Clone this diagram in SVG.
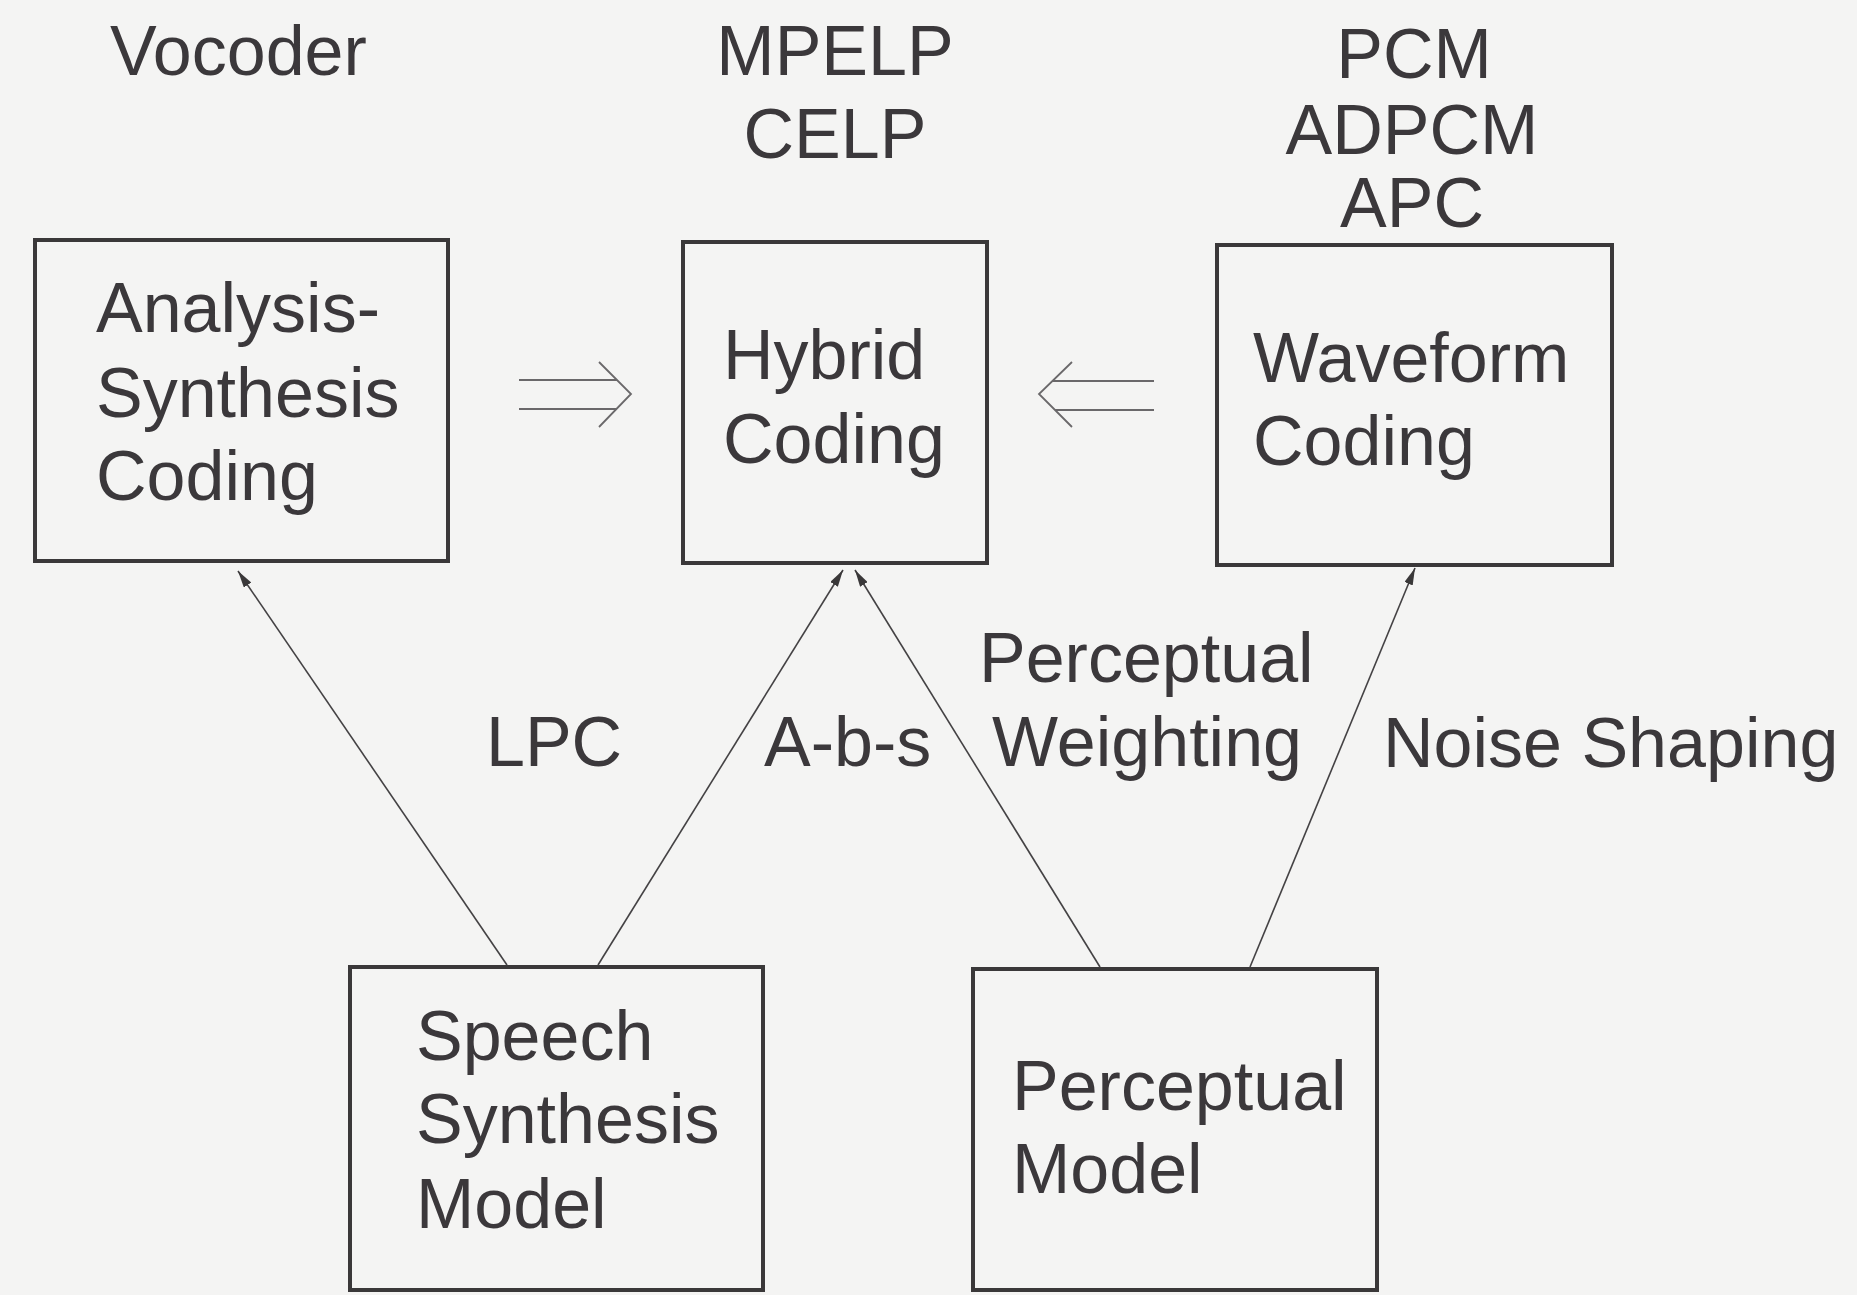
<svg xmlns="http://www.w3.org/2000/svg" width="1857" height="1295" viewBox="0 0 1857 1295">
<style>
  .bg { fill: #f4f4f3; }
  .box { fill: none; stroke: #3a3839; stroke-width: 4; }
  .t { font-family: "Liberation Sans", Arial, sans-serif; font-size: 70px; fill: #3b383b; }
  .c { text-anchor: middle; }
  .conn { stroke: #444244; stroke-width: 1.6; fill: none; }
  .dbl { stroke: #6a686a; stroke-width: 1.8; fill: none; }
</style>
<defs>
  <marker id="ah" markerUnits="userSpaceOnUse" markerWidth="18" markerHeight="9" refX="17" refY="4.5" orient="auto">
    <path d="M0,0 L17,4.5 L0,9 z" fill="#3a3839"/>
  </marker>
</defs>
<rect class="bg" x="0" y="0" width="1857" height="1295"/>

<g id="labels-top">
  <text class="t" x="110" y="75">Vocoder</text>
  <text class="t c" x="835" y="75">MPELP</text>
  <text class="t c" x="835" y="158">CELP</text>
  <text class="t c" x="1414" y="78">PCM</text>
  <text class="t c" x="1412" y="154">ADPCM</text>
  <text class="t c" x="1412" y="227">APC</text>
</g>

<g id="node-analysis-synthesis">
  <rect class="box" x="35" y="240" width="413" height="321"/>
  <text class="t" x="96" y="332">Analysis-</text>
  <text class="t" x="96" y="417">Synthesis</text>
  <text class="t" x="96" y="500">Coding</text>
</g>

<g id="node-hybrid">
  <rect class="box" x="683" y="242" width="304" height="321"/>
  <text class="t" x="723" y="379">Hybrid</text>
  <text class="t" x="723" y="463">Coding</text>
</g>

<g id="node-waveform">
  <rect class="box" x="1217" y="245" width="395" height="320"/>
  <text class="t" x="1253" y="382">Waveform</text>
  <text class="t" x="1253" y="465">Coding</text>
</g>

<g id="node-speech-synthesis">
  <rect class="box" x="350" y="967" width="413" height="323"/>
  <text class="t" x="416" y="1060">Speech</text>
  <text class="t" x="416" y="1143">Synthesis</text>
  <text class="t" x="416" y="1228">Model</text>
</g>

<g id="node-perceptual">
  <rect class="box" x="973" y="969" width="404" height="321"/>
  <text class="t" x="1012" y="1110">Perceptual</text>
  <text class="t" x="1012" y="1193">Model</text>
</g>

<g id="connectors">
  <line class="conn" x1="507" y1="965" x2="238" y2="571" marker-end="url(#ah)"/>
  <line class="conn" x1="598" y1="965" x2="843" y2="570" marker-end="url(#ah)"/>
  <line class="conn" x1="1100" y1="967" x2="855" y2="570" marker-end="url(#ah)"/>
  <line class="conn" x1="1250" y1="967" x2="1415" y2="568" marker-end="url(#ah)"/>
  <g id="double-arrow-left">
    <line class="dbl" x1="519" y1="380" x2="617" y2="380"/>
    <line class="dbl" x1="519" y1="409" x2="617" y2="409"/>
    <polyline class="dbl" points="599,362 631,394 599,427"/>
  </g>
  <g id="double-arrow-right">
    <line class="dbl" x1="1052" y1="381" x2="1154" y2="381"/>
    <line class="dbl" x1="1055" y1="410" x2="1154" y2="410"/>
    <polyline class="dbl" points="1072,362 1039,394 1072,427"/>
  </g>
</g>

<g id="connector-labels">
  <text class="t" x="486" y="766">LPC</text>
  <text class="t" x="764" y="766">A-b-s</text>
  <text class="t" x="979" y="682">Perceptual</text>
  <text class="t" x="992" y="766">Weighting</text>
  <text class="t" x="1383" y="767">Noise Shaping</text>
</g>
</svg>
